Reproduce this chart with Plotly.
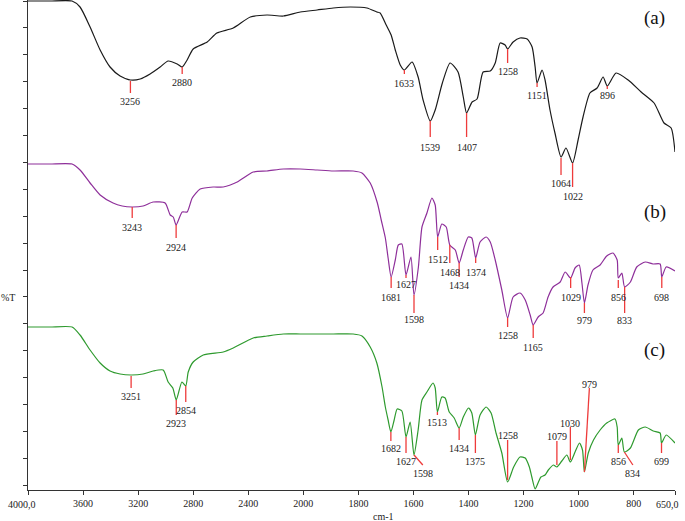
import plotly.graph_objects as go

# ---------------- data (wavenumber cm-1, %T offset units) ----------------
wn_a = [4000, 3840, 3680, 3622, 3549, 3476, 3404, 3331, 3256, 3185, 3113, 3040, 2982, 2916, 2880, 2844,
        2800, 2698, 2628, 2509, 2385, 2264, 2145, 2022, 1950, 1891, 1829, 1769, 1733, 1721, 1699, 1681,
        1666, 1648, 1633, 1605, 1583, 1565, 1539, 1521, 1495, 1467, 1438, 1419, 1407, 1387, 1369, 1347,
        1321, 1303, 1285, 1267, 1258, 1238, 1213, 1187, 1169, 1158, 1151, 1133, 1122, 1104, 1086, 1064,
        1046, 1022, 1002, 984, 959, 933, 911, 896, 864, 820, 773, 726, 690, 664, 650]
t_a = [499, 499, 499, 493, 473, 450, 433, 424, 420, 421, 426, 433, 439, 436, 433, 440,
       451, 458, 467, 472, 483, 485, 484, 488, 490, 492, 493, 492, 488, 487, 475, 465,
       450, 435, 430, 438, 423, 400, 379, 390, 417, 437, 428, 403, 387, 398, 401, 428,
       429, 437, 457, 455, 451, 458, 462, 461, 453, 433, 417, 430, 420, 390, 367, 343,
       352, 337, 360, 383, 407, 412, 423, 414, 427, 420, 408, 397, 377, 372, 348]

wn_b = [4000, 3840, 3680, 3622, 3549, 3476, 3382, 3316, 3243, 3164, 3091, 3004, 2967, 2945, 2924, 2880,
        2844, 2807, 2749, 2655, 2582, 2480, 2364, 2264, 2145, 2022, 1950, 1891, 1819, 1787, 1757, 1731,
        1717, 1702, 1692, 1681, 1666, 1655, 1642, 1627, 1609, 1598, 1582, 1569, 1551, 1533, 1521, 1512,
        1497, 1481, 1468, 1448, 1434, 1419, 1401, 1388, 1374, 1358, 1336, 1321, 1303, 1279, 1258, 1238,
        1213, 1194, 1176, 1165, 1147, 1129, 1111, 1093, 1067, 1049, 1029, 1013, 998, 988, 979, 966,
        948, 922, 898, 875, 860, 856, 843, 833, 812, 789, 758, 730, 704, 698, 682, 650]
t_b = [336, 336, 336, 330, 317, 305, 297, 294, 293, 294, 298, 297, 285, 283, 275, 288,
       288, 302, 311, 313, 313, 318, 328, 329, 331, 331, 330, 329, 329, 327, 317, 297,
       280, 262, 242, 223, 240, 255, 256, 225, 243, 205, 233, 273, 287, 302, 295, 263,
       276, 273, 255, 250, 237, 250, 263, 262, 242, 258, 263, 258, 240, 210, 182, 203,
       207, 200, 185, 175, 183, 187, 203, 213, 218, 228, 222, 232, 235, 217, 197, 215,
       230, 235, 244, 247, 240, 222, 227, 213, 218, 233, 238, 236, 236, 223, 233, 229]

wn_c = [4000, 3840, 3680, 3622, 3549, 3476, 3404, 3331, 3251, 3164, 3091, 3018, 2982, 2948, 2923, 2882,
        2854, 2836, 2800, 2727, 2582, 2509, 2364, 2264, 2145, 2022, 1950, 1891, 1819, 1787, 1757, 1733,
        1714, 1702, 1692, 1682, 1670, 1659, 1642, 1627, 1612, 1598, 1583, 1569, 1551, 1529, 1521, 1513,
        1497, 1485, 1470, 1452, 1434, 1419, 1400, 1388, 1375, 1358, 1336, 1318, 1300, 1279, 1258, 1236,
        1213, 1194, 1179, 1170, 1158, 1146, 1137, 1122, 1110, 1092, 1079, 1061, 1043, 1030, 1013, 997,
        986, 979, 965, 946, 922, 898, 868, 860, 856, 843, 834, 812, 783, 758, 729, 704, 699, 682, 650]
t_c = [173, 173, 173, 165, 150, 137, 129, 126, 125, 126, 129, 130, 118, 112, 100, 118,
       114, 128, 138, 145, 148, 152, 162, 164, 166, 166, 166, 166, 166, 164, 153, 137,
       113, 93, 80, 68, 80, 91, 89, 63, 78, 45, 70, 100, 108, 117, 112, 88,
       103, 102, 88, 82, 72, 83, 92, 87, 65, 85, 93, 87, 67, 47, 18, 33,
       43, 42, 33, 23, 11, 18, 23, 25, 30, 35, 33, 39, 45, 38, 48, 57,
       50, 28, 47, 60, 70, 77, 81, 73, 55, 62, 48, 52, 70, 73, 69, 67, 57, 65, 57]

# peak labels: wavenumber, red line from/to (%T units), label wavenumber, label %T
peaks_a = [3256, 2880, 1633, 1539, 1407, 1258, 1151, 896, 1064, 1022]
marks_a = [(419, 407, 3256, 399), (433, 426, 2880, 418), (430, 426, 1633, 417), (379, 363, 1539, 353),
           (387, 363, 1407, 353), (451, 437, 1258, 429), (417, 413, 1151, 405), (414, 411, 896, 405),
           (342, 325, 1064, 317), (337, 313, 1022, 304)]
peaks_b = [3243, 2924, 1681, 1627, 1598, 1512, 1468, 1434, 1374, 1258, 1165, 1029, 979, 856, 833, 698]
marks_b = [(293, 282, 3243, 273), (275, 262, 2924, 253), (223, 212, 1681, 203), (225, 222, 1627, 216),
           (205, 187, 1598, 181), (263, 250, 1512, 241), (255, 237, 1468, 228), (237, 223, 1434, 215),
           (242, 237, 1374, 228), (182, 173, 1258, 165), (175, 162, 1165, 153), (223, 212, 1029, 203),
           (197, 187, 979, 180), (220, 212, 856, 203), (213, 187, 833, 180), (223, 212, 698, 203)]
peaks_c = [3251, 2923, 2854, 1682, 1627, 1598, 1513, 1434, 1375, 1258, 1079, 1030, 979, 856, 834, 699]
marks_c = [(124, 112, 3251, 104), (100, 85, 2923, 77), (114, 98, 2854, 90), (68, 59, 1682, 52),
           (63, 47, 1627, 39), (45, 35, 1566, 27), (88, 85, 1513, 78), (72, 60, 1434, 52),
           (65, 47, 1375, 39), (20, 60, 1258, 65), (35, 59, 1079, 64), (40, 73, 1030, 77),
           (28, 112, 961, 116), (55, 47, 856, 39), (48, 35, 803, 27), (57, 47, 699, 39)]

tick_wn = [4000, 3600, 3200, 2800, 2400, 2000, 1800, 1600, 1400, 1200, 1000, 800, 650]
tick_text = ["4000,0", "3600", "3200", "2800", "2400", "2000", "1800", "1600", "1400", "1200", "1000", "800", "650,0"]

series_names = ["(a)", "(b)", "(c)"]
series_colors = ["#1a1a1a", "#8e2f9a", "#2e9a2e"]
name_pos_t = [482, 288, 150]


# instrument-style split abscissa: 4000-2000 compressed by 2
def u(w):
    return (4000 - w) / 2 if w >= 2000 else 1000 + (2000 - w)


fig = go.Figure()
serif = "Liberation Serif"
red = "#ee3b3b"

for wn, tt, col in [(wn_a, t_a, series_colors[0]), (wn_b, t_b, series_colors[1]), (wn_c, t_c, series_colors[2])]:
    fig.add_trace(go.Scatter(x=[u(w) for w in wn], y=tt, mode="lines",
                             line=dict(color=col, width=1.2, shape="spline", smoothing=0.6),
                             hoverinfo="skip", showlegend=False))

annotations = []
for peaks, marks in [(peaks_a, marks_a), (peaks_b, marks_b), (peaks_c, marks_c)]:
    xs, ys = [], []
    for p, (y0, y1, lw, ly) in zip(peaks, marks):
        xs += [u(p), u(lw), None]
        ys += [y0, y1, None]
        annotations.append(dict(x=u(lw), y=ly, text=str(p), showarrow=False, xref="x", yref="y",
                                font=dict(family=serif, size=10, color="#222"),
                                xanchor="center", yanchor="middle"))
    fig.add_trace(go.Scatter(x=xs, y=ys, mode="lines", line=dict(color=red, width=1.3),
                             hoverinfo="skip", showlegend=False))

for nm, ty in zip(series_names, name_pos_t):
    annotations.append(dict(x=u(723), y=ty, text=nm, showarrow=False, xref="x", yref="y",
                            font=dict(family=serif, size=19, color="#111"),
                            xanchor="center", yanchor="middle"))

# end tick labels (shifted inside the frame as in the original)
annotations.append(dict(x=u(tick_wn[0]), y=0, xref="x", yref="paper", text=tick_text[0], showarrow=False,
                        xanchor="center", yanchor="top", xshift=-6, yshift=-7,
                        font=dict(family=serif, size=10, color="#222")))
annotations.append(dict(x=u(tick_wn[-1]), y=0, xref="x", yref="paper", text=tick_text[-1], showarrow=False,
                        xanchor="center", yanchor="top", xshift=-8, yshift=-7,
                        font=dict(family=serif, size=10, color="#222")))
annotations.append(dict(x=0.55, y=-0.055, xref="paper", yref="paper", text="cm-1", showarrow=False,
                        xanchor="center", yanchor="middle", font=dict(family=serif, size=10, color="#222")))
annotations.append(dict(x=-0.031, y=0.392, xref="paper", yref="paper", text="%T", showarrow=False,
                        xanchor="center", yanchor="middle", font=dict(family=serif, size=10, color="#222")))

shown_text = [""] + tick_text[1:-1] + [""]
fig.update_layout(
    width=685, height=521,
    margin=dict(l=28, r=10, t=0, b=31),
    paper_bgcolor="white", plot_bgcolor="white",
    annotations=annotations,
    xaxis=dict(range=[0, u(650)], tickmode="array", tickvals=[u(w) for w in tick_wn], ticktext=shown_text,
               showgrid=False, zeroline=False, showline=True, linecolor="#333", linewidth=1,
               ticks="outside", ticklen=4, tickcolor="#333",
               tickfont=dict(family=serif, size=10, color="#222")),
    yaxis=dict(range=[10, 500], showgrid=False, zeroline=False, showline=True, linecolor="#333", linewidth=1,
               ticks="outside", ticklen=4, tickcolor="#333", tick0=14.8, dtick=26.9, showticklabels=False),
)

fig.write_html("out.html", config={"displayModeBar": False},
               post_script="document.body.style.margin='0';document.body.style.padding='0';")
